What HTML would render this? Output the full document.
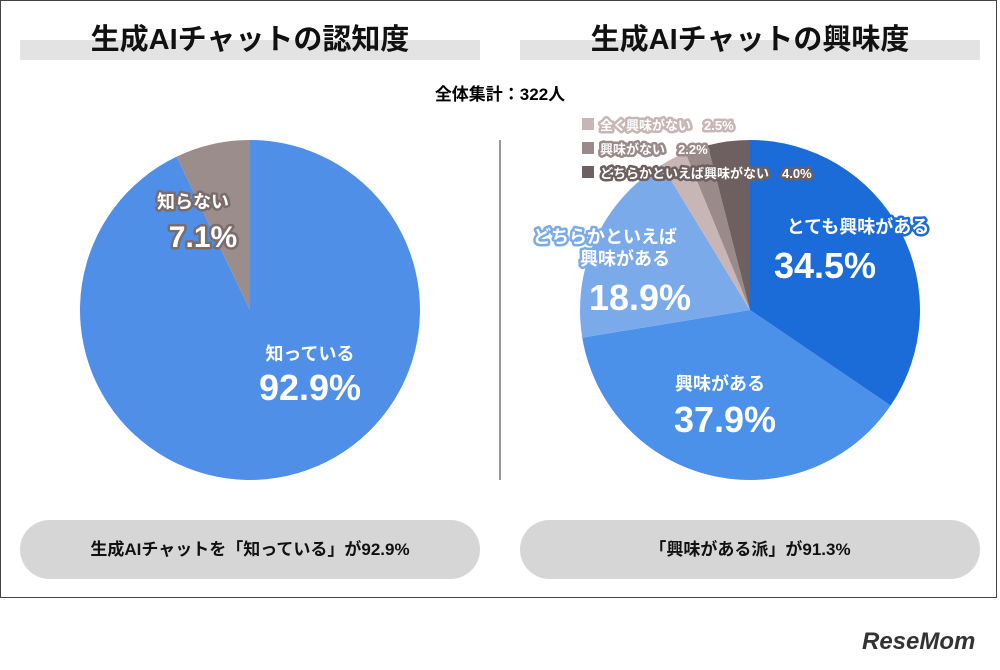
<!DOCTYPE html>
<html><head><meta charset="utf-8"><style>
body{margin:0;width:1000px;height:670px;background:#fff;font-family:"Liberation Sans","Noto Sans CJK JP",sans-serif;position:relative;overflow:hidden}
.frame{position:absolute;left:0;top:0;width:997px;height:598px;border:1px solid #444;box-sizing:border-box}
.tbar{position:absolute;top:40px;height:20px;background:#e3e3e3}
.title{position:absolute;top:16px;width:460px;text-align:center;font-size:29px;font-weight:bold;color:#111}
.pill{position:absolute;top:520px;width:460px;height:59px;border-radius:30px;background:#d6d6d6;text-align:center;line-height:59px;font-size:17px;font-weight:bold;color:#111}
</style></head><body>
<div class="frame"></div>
<div class="tbar" style="left:20px;width:460px"></div>
<div class="tbar" style="left:520px;width:460px"></div>
<div class="title" style="left:20px">生成AIチャットの認知度</div>
<div class="title" style="left:520px">生成AIチャットの興味度</div>
<div style="position:absolute;left:0;width:1000px;top:80px;text-align:center;font-size:17px;font-weight:bold">全体集計：322人</div>
<svg id="svg" width="1000" height="670" style="position:absolute;left:0;top:0">
<line x1="500" y1="140" x2="500" y2="480" stroke="#999" stroke-width="2"/>
</svg>
<div class="pill" style="left:20px">生成AIチャットを「知っている」が92.9%</div>
<div class="pill" style="left:520px">「興味がある派」が91.3%</div>
<div style="position:absolute;left:862px;top:628px;font-size:24px;font-weight:bold;font-style:italic;color:#333">ReseMom</div>
<script>
const leftCats=["知っている","知らない"];
const leftVals=[92.9,7.1];
const leftColors=["#4f8fe8","#9b8d8b"];
const rightCats=["とても興味がある","興味がある","どちらかといえば興味がある","全く興味がない","興味がない","どちらかといえば興味がない"];
const rightVals=[34.5,37.9,18.9,2.5,2.2,4.0];
const rightColors=["#1b6bd9","#4b90e9","#7aaaea","#c8b6b6","#9b8a8a","#6e6060"];
const svg=document.getElementById('svg');
const NS="http://www.w3.org/2000/svg";
function pt(cx,cy,r,f){const a=f*2*Math.PI-Math.PI/2;return [cx+r*Math.cos(a),cy+r*Math.sin(a)];}
function pie(cx,cy,r,vals,colors,names){
 const tot=vals.reduce((a,b)=>a+b,0);let acc=0;
 vals.forEach((v,i)=>{const f0=acc/tot;acc+=v;const f1=acc/tot;
  const p0=pt(cx,cy,r,f0),p1=pt(cx,cy,r,f1);
  const el=document.createElementNS(NS,'path');
  el.setAttribute('d',`M${cx},${cy}L${p0[0]},${p0[1]}A${r},${r} 0 ${f1-f0>0.5?1:0} 1 ${p1[0]},${p1[1]}Z`);
  el.setAttribute('fill',colors[i]);
  
  
  svg.appendChild(el);});
}
function txt(x,y,s,size,fill,stroke,anchor){const t=document.createElementNS(NS,'text');
 t.setAttribute('x',x);t.setAttribute('y',y);t.setAttribute('font-size',size);t.setAttribute('font-weight','bold');
 t.setAttribute('fill',fill);t.setAttribute('text-anchor',anchor||'middle');
 if(stroke){t.setAttribute('stroke',stroke);t.setAttribute('stroke-width','5');t.setAttribute('paint-order','stroke');t.setAttribute('stroke-linejoin','round');}
 t.textContent=s;
 
 
 svg.appendChild(t);}
pie(250,310,170,leftVals,leftColors,["know","dont-know"]);
pie(750,310,170,rightVals,rightColors,["very","interested","somewhat","not-at-all","not","somewhat-not"]);
txt(310,360,leftCats[0],18,"#fff");
txt(310,400,leftVals[0]+"%",36,"#fff");
txt(193,208,leftCats[1],18,"#fff","#7a6c6a");
txt(203,247,leftVals[1]+"%",30,"#fff","#7a6c6a");
txt(858,233,rightCats[0],18,"#fff","#1b6bd9");
txt(825,278,rightVals[0]+"%",36,"#fff");
txt(720,390,rightCats[1],18,"#fff");
txt(725,432,rightVals[1]+"%",36,"#fff");
txt(605,243,"どちらかといえば",18,"#fff","#7aaaea");
txt(625,265,"興味がある",18,"#fff","#7aaaea");
txt(640,310,rightVals[2]+"%",36,"#fff");
const legY=[128,152,176];
[3,4,5].forEach((k,j)=>{
 const r=document.createElementNS(NS,'rect');r.setAttribute('x',582);r.setAttribute('y',legY[j]-10);r.setAttribute('width',12);r.setAttribute('height',12);r.setAttribute('fill',rightColors[k]);
 
 
 svg.appendChild(r);
 txt(600,legY[j]+2,rightCats[k]+"　"+rightVals[k].toFixed(1)+"%",13,"#fff",rightColors[k],"start");
});
</script>
</body></html>
